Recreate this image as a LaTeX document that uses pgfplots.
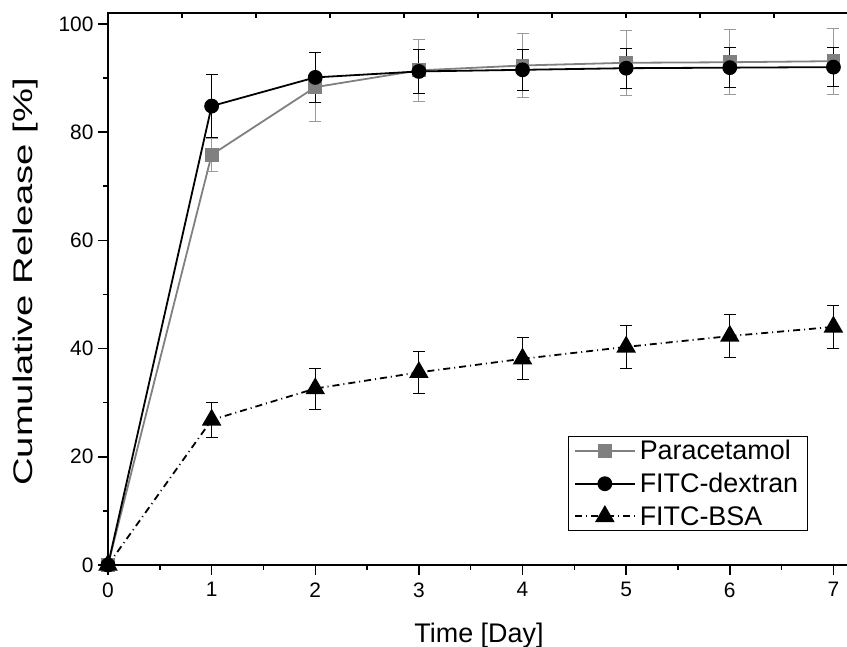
\documentclass[border=0pt]{standalone}
\usepackage{pgfplots}
\pgfplotsset{compat=1.18}
\usepackage{pgfplotstable}
\usepackage{fontspec}
\setmainfont{Liberation Sans}
\definecolor{pgray}{HTML}{808080}
\definecolor{egray}{HTML}{9A9A9A}
\newcommand{\lf}{\fontsize{27}{30}\selectfont}

\pgfplotstableread{
x y e
0 0 0
1 75.8 3.0
2 88.3 6.4
3 91.4 5.7
4 92.3 5.9
5 92.8 6.0
6 92.9 6.0
7 93.1 6.1
}\para
\pgfplotstableread{
x y e
0 0 0
1 84.8 5.8
2 90.1 4.6
3 91.2 4.0
4 91.5 3.8
5 91.8 3.7
6 91.9 3.7
7 92.0 3.6
}\dex
\pgfplotstableread{
x y e
0 0 0
1 26.8 3.3
2 32.6 3.8
3 35.6 3.9
4 38.1 3.9
5 40.3 3.9
6 42.3 4.0
7 44.0 4.0
}\bsa

\begin{document}
\begin{tikzpicture}
\begin{axis}[
  at={(0,0)}, anchor=south west,
  scale only axis, width=742bp, height=552bp,
  xmin=0, xmax=7.16, ymin=0, ymax=102,
  axis line style={line width=1.8bp},
  xtick={0,...,7}, minor x tick num=1,
  ytick={0,20,...,100}, minor y tick num=1,
  xtick pos=bottom, ytick pos=left,
  tick align=outside,
  major tick length=10bp, minor tick length=5bp,
  every tick/.style={black, line width=1.5bp},
  /pgf/number format/assume math mode=true,
  tick label style={font=\fontsize{21}{24}\selectfont},
  xticklabel style={yshift=-4bp},
  yticklabel style={xshift=-1bp},
  xlabel={Time [Day]},
  ylabel={Cumulative Release [\%]},
  every axis x label/.style={at={(axis description cs:0.5,-0.1413)}, anchor=base, font=\fontsize{27}{30}\selectfont},
  every axis y label/.style={at={(axis description cs:-0.1011,0.5127)}, rotate=90, xscale=1.42, anchor=base, font=\fontsize{27}{30}\selectfont},
  legend cell align=left,
  legend style={at={(rel axis cs:0.943,0.0616)}, anchor=south east,
    draw=black, line width=1bp, font=\lf,
    nodes={inner ysep=2bp, inner xsep=4bp},
    inner xsep=5bp, inner ysep=2bp, row sep=8bp},
  legend image code/.code={
    \draw[#1] (0bp,0bp) -- (60bp,0bp);
    \draw[#1, solid] plot coordinates {(30bp,0bp)};
  },
]
\addplot[pgray, line width=1.8bp, mark=square*, mark size=6bp, mark options={solid, fill=pgray, draw=pgray},
  error bars/y dir=both, error bars/y explicit,
  error bars/error bar style={egray, line width=1bp},
  error bars/error mark options={rotate=90, egray, mark size=6bp, line width=1bp}]
  table[x=x, y=y, y error=e]{\para};
\addlegendentry{\lf Paracetamol}
\addplot[black, line width=1.8bp, mark=*, mark size=6.5bp, mark options={solid, fill=black},
  error bars/y dir=both, error bars/y explicit,
  error bars/error bar style={black, line width=1bp},
  error bars/error mark options={rotate=90, black, mark size=6bp, line width=1bp}]
  table[x=x, y=y, y error=e]{\dex};
\addlegendentry{\lf FITC-dextran}
\addplot[black, line width=1.8bp, dash pattern=on 7bp off 4bp on 1bp off 4bp, mark=triangle*, mark size=9.5bp, mark options={solid, fill=black},
  error bars/y dir=both, error bars/y explicit,
  error bars/error bar style={black, line width=1bp, solid},
  error bars/error mark options={rotate=90, black, mark size=6bp, line width=1bp, solid}]
  table[x=x, y=y, y error=e]{\bsa};
\addlegendentry{\lf FITC-BSA}
\end{axis}
\begin{axis}[
  at={(0,0)}, anchor=south west,
  scale only axis, width=742bp, height=552bp,
  xmin=0, xmax=10.03, ymin=0, ymax=1,
  axis x line*=top, hide y axis,
  axis line style={line width=1.8bp, -},
  xtick={1,...,10}, xticklabels={},
  tick align=inside, major tick length=5bp,
  every tick/.style={black, line width=1.5bp},
]
\end{axis}
\pgfresetboundingbox
\path[use as bounding box] (-108bp,-82bp) rectangle (739bp,565bp);
\end{tikzpicture}
\end{document}
